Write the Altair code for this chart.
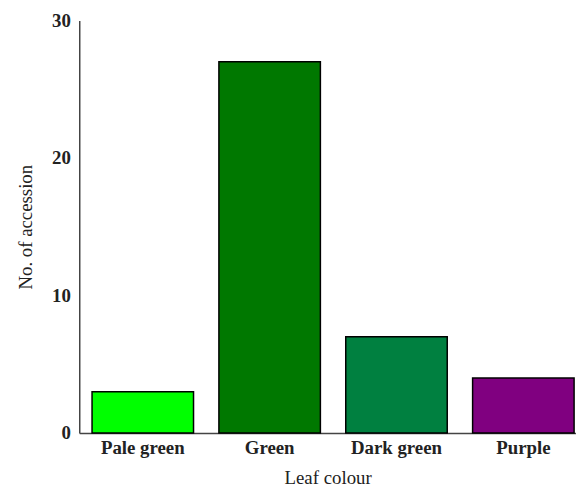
import altair as alt
import pandas as pd

categories = ["Pale green", "Green", "Dark green", "Purple"]
counts = [3, 27, 7, 4]
bar_colors = ["#00FF00", "#007800", "#008040", "#800080"]

df = pd.DataFrame({"cat": categories, "n": counts})

FONT = "Liberation Serif"

chart = alt.Chart(df).mark_bar(stroke="black", strokeWidth=1.5).encode(
    x=alt.X("cat:N", sort=categories,
            scale=alt.Scale(paddingInner=0.2, paddingOuter=0.058, align=0.87),
            axis=alt.Axis(title="Leaf colour", labelAngle=0, ticks=False,
                          labelFont=FONT, labelFontWeight="bold", labelFontSize=19,
                          labelColor="#222", labelPadding=6,
                          titleFont=FONT, titleFontWeight="normal", titleFontSize=19,
                          titleColor="#222", titlePadding=11,
                          domainColor="#444", domainWidth=1.5)),
    y=alt.Y("n:Q", scale=alt.Scale(domain=[0, 30]),
            axis=alt.Axis(title="No. of accession", values=[0, 10, 20, 30], ticks=False,
                          grid=False, labelFont=FONT, labelFontWeight="bold",
                          labelFontSize=19, labelColor="#222", labelPadding=9,
                          titleFont=FONT, titleFontWeight="normal", titleFontSize=19,
                          titleColor="#222", titlePadding=16,
                          domainColor="#444", domainWidth=1.5)),
    color=alt.Color("cat:N", sort=categories,
                    scale=alt.Scale(domain=categories, range=bar_colors), legend=None),
).properties(
    width=502, height=417,
    autosize=alt.AutoSizeParams(type="none"),
    padding={"left": 72, "top": 10, "right": 0, "bottom": 52},
).configure_view(stroke=None)

chart.save("out.html", embed_options={"renderer": "svg", "actions": False})
